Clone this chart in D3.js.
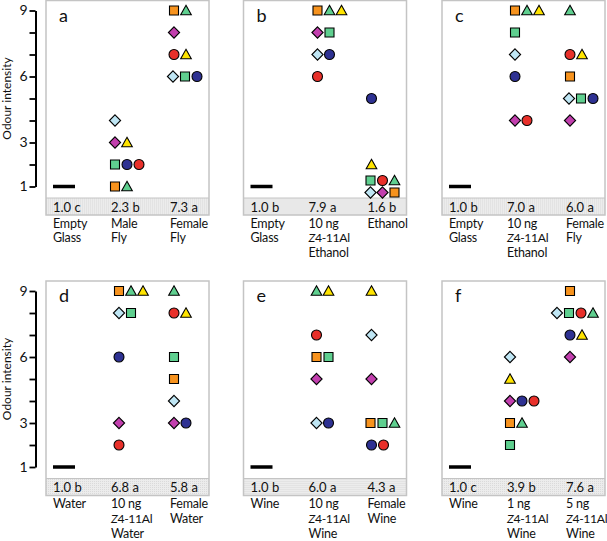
<!DOCTYPE html>
<html lang="en">
  <head>
    <meta charset="UTF-8" />
    <script src="https://d3js.org/d3.v7.min.js"></script>
    <style>
      body { margin: 0; background: #fff; }
      text { font-family: Lato, 'Noto Sans', sans-serif; fill: #111; }
    </style>
  </head>
  <body>
  <script>
    // subjects, always drawn in this order inside a row
    const subjects = ['lbDiamond', 'purpleDiamond', 'orangeSquare', 'greenSquare', 'blueCircle', 'redCircle', 'greenTriangle', 'yellowTriangle']
    const shapes = ['diamond', 'diamond', 'square', 'square', 'circle', 'circle', 'triangle', 'triangle']
    const fills = ['#bfe6f4', '#c23fae', '#f7931e', '#5fcf8f', '#2e3192', '#e8302a', '#5fcf8f', '#ffe400']

    const panelLetters = ['a', 'b', 'c', 'd', 'e', 'f']
    const controlValue = 1

    // scores per subject (same order as subjects)
    const aMaleFly = [4, 3, 1, 2, 2, 2, 1, 3]
    const aFemaleFly = [6, 8, 9, 6, 6, 7, 9, 7]
    const bZ4Ethanol = [7, 8, 9, 8, 7, 6, 9, 9]
    const bEthanol = [1, 1, 1, 1, 5, 1, 1, 2]
    const cZ4Ethanol = [7, 4, 9, 8, 6, 4, 9, 9]
    const cFemaleFly = [5, 4, 6, 5, 5, 7, 9, 7]
    const dZ4Water = [8, 3, 9, 8, 6, 2, 9, 9]
    const dFemaleWater = [4, 3, 5, 6, 3, 8, 9, 8]
    const eZ4Wine = [3, 5, 6, 6, 3, 7, 9, 9]
    const eFemaleWine = [7, 5, 3, 3, 2, 2, 3, 9]
    const f1ngWine = [6, 4, 3, 2, 4, 4, 3, 5]
    const f5ngWine = [8, 6, 9, 8, 7, 8, 8, 7]
    const treatments = [
      [aMaleFly, aFemaleFly], [bZ4Ethanol, bEthanol], [cZ4Ethanol, cFemaleFly],
      [dZ4Water, dFemaleWater], [eZ4Wine, eFemaleWine], [f1ngWine, f5ngWine]
    ]

    const meanLabels = [
      ['1.0 c', '2.3 b', '7.3 a'], ['1.0 b', '7.9 a', '1.6 b'], ['1.0 b', '7.0 a', '6.0 a'],
      ['1.0 b', '6.8 a', '5.8 a'], ['1.0 b', '6.0 a', '4.3 a'], ['1.0 c', '3.9 b', '7.6 a']
    ]
    const categoryLabels = [
      [['Empty', 'Glass'], ['Male', 'Fly'], ['Female', 'Fly']],
      [['Empty', 'Glass'], ['10 ng', 'Z4-11Al', 'Ethanol'], ['Ethanol']],
      [['Empty', 'Glass'], ['10 ng', 'Z4-11Al', 'Ethanol'], ['Female', 'Fly']],
      [['Water'], ['10 ng', 'Z4-11Al', 'Water'], ['Female', 'Water']],
      [['Wine'], ['10 ng', 'Z4-11Al', 'Wine'], ['Female', 'Wine']],
      [['Wine'], ['1 ng', 'Z4-11Al', 'Wine'], ['5 ng', 'Z4-11Al', 'Wine']]
    ]
    const yTicks = [1, 2, 3, 4, 5, 6, 7, 8, 9]
    const yTickLabels = [1, 3, 6, 9]

    // layout
    const W = 607, H = 541
    const panelLeft = [46, 243.5, 442]
    const rowTop = [0.5, 281]
    const panelW = 163, plotH = 197.5, stripH = 17
    const midColX = [69, 74, 73, 73, 73, 68]
    const lastColX = 128
    const step = 12
    const textX = [7, 65, 124]

    const svg = d3.select('body').append('svg').attr('width', W).attr('height', H)

    const defs = svg.append('defs')
    const pat = defs.append('pattern').attr('id', 'dots').attr('width', 2).attr('height', 2)
      .attr('patternUnits', 'userSpaceOnUse')
    pat.append('rect').attr('width', 2).attr('height', 2).attr('fill', '#ececec')
    pat.append('rect').attr('width', 1).attr('height', 1).attr('fill', '#dadada')

    function shapePath(shape) {
      if (shape === 'square') return 'M-4.5,-4.5H4.5V4.5H-4.5Z'
      if (shape === 'diamond') return 'M0,-5.6L5.6,0L0,5.6L-5.6,0Z'
      if (shape === 'triangle') return 'M0,-5.2L5.3,4.3H-5.3Z'
      return d3.symbol(d3.symbolCircle, 78)()
    }

    panelLetters.forEach((letter, p) => {
      const left = panelLeft[p % 3]
      const top = rowTop[Math.floor(p / 3)]
      const g = svg.append('g').attr('transform', `translate(${left},${top})`)
      const y = d3.scaleLinear().domain([1, 9]).range([186, 10])

      g.append('rect').attr('x', 0).attr('y', 0).attr('width', panelW).attr('height', plotH)
        .attr('fill', '#fff')
      g.append('rect').attr('x', 0).attr('y', plotH).attr('width', panelW).attr('height', stripH)
        .attr('fill', 'url(#dots)')
      g.append('line').attr('x1', 0).attr('x2', panelW).attr('y1', plotH).attr('y2', plotH)
        .attr('stroke', '#c4c4c4').attr('stroke-width', 1)
      g.append('rect').attr('x', 0).attr('y', 0).attr('width', panelW).attr('height', plotH + stripH)
        .attr('fill', 'none').attr('stroke', '#c4c4c4').attr('stroke-width', 1.5)

      g.append('text').attr('x', 13).attr('y', 21).attr('font-size', 18).text(letter)

      // control: all subjects at 1, shown as a bar
      g.append('line').attr('x1', 7).attr('x2', 29)
        .attr('y1', y(controlValue)).attr('y2', y(controlValue))
        .attr('stroke', '#000').attr('stroke-width', 3.5)

      const colX = [midColX[p], lastColX]
      treatments[p].forEach((vals, c) => {
        const groups = d3.groups(vals.map((v, i) => ({ v, i })), d => d.v)
        const pts = []
        groups.forEach(([v, members]) => {
          const rows = members.length > 4
            ? [[members.slice(0, Math.ceil(members.length / 2)), 6],
               [members.slice(Math.ceil(members.length / 2)), -6]]
            : [[members, 0]]
          rows.forEach(([m, dy]) => {
            const start = Math.min(colX[c], panelW - step - (m.length - 1) * step)
            m.forEach((d, k) => pts.push({ i: d.i, x: start + k * step, y: y(v) + dy }))
          })
        })
        g.selectAll(null).data(pts).enter().append('path')
          .attr('d', d => shapePath(shapes[d.i]))
          .attr('transform', d => `translate(${d.x},${d.y})`)
          .attr('fill', d => fills[d.i])
          .attr('stroke', '#000').attr('stroke-width', 1.1)
      })

      // mean and letters
      g.selectAll(null).data(meanLabels[p]).enter().append('text')
        .attr('x', (d, k) => textX[k]).attr('y', plotH + 13.5)
        .attr('font-size', 13).text(d => d)

      // treatment names
      categoryLabels[p].forEach((lines, k) => {
        lines.forEach((line, j) => {
          const t = g.append('text').attr('x', textX[k]).attr('y', plotH + stripH + 12.5 + j * 14.8)
            .attr('font-size', 12.5).attr('letter-spacing', -0.2)
          if (line.startsWith('Z4')) {
            t.attr('font-size', 12.2).attr('letter-spacing', -0.35)
            t.append('tspan').attr('font-style', 'italic').text('Z')
            t.append('tspan').text(line.slice(1))
          } else t.text(line)
        })
      })

      if (p % 3 === 0) {
        const ax = svg.append('g').attr('transform', `translate(35.5,${top})`)
          .call(d3.axisLeft(y).tickValues(yTicks).tickSize(6).tickSizeOuter(0)
            .tickFormat(d => yTickLabels.includes(d) ? d : ''))
        ax.select('.domain').attr('stroke-width', 2).attr('stroke', '#000')
        ax.selectAll('.tick line').attr('stroke-width', 1.8).attr('stroke', '#000')
        ax.selectAll('.tick text').attr('font-size', 14).attr('font-family', 'Lato, sans-serif')
          .attr('fill', '#111').attr('x', -8)
        svg.append('text').attr('transform', `translate(11,${top + 98}) rotate(-90)`)
          .attr('text-anchor', 'middle').attr('font-size', 12).text('Odour intensity')
      }
    })
  </script>
  </body>
</html>
